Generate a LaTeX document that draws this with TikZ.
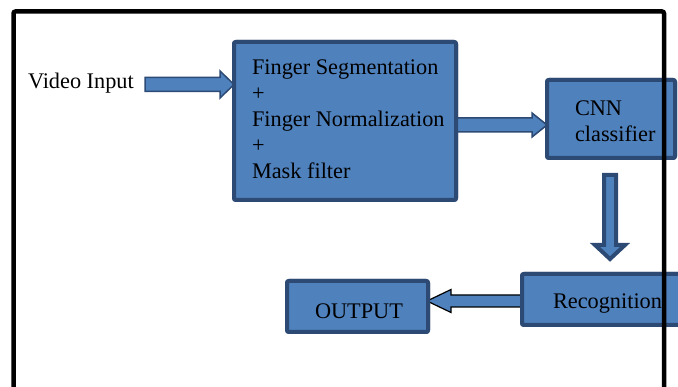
\documentclass[tikz,border=0pt]{standalone}
\usepackage{fontspec}
\setmainfont{Liberation Serif}
\usetikzlibrary{calc}
\definecolor{boxfill}{HTML}{4F81BD}
\definecolor{boxline}{HTML}{2C4A74}
\tikzset{
  box/.style={draw=boxline, fill=boxfill, line width=4pt, rounded corners=2pt,
    inner sep=0pt, outer sep=0pt},
  txt/.style={inner sep=0pt, outer sep=0pt, text=black,
    font=\fontsize{22.3}{26}\selectfont},
  barrow/.style={fill=boxfill, draw=boxline, line width=1.5pt, line join=miter},
  darrow/.style={fill=boxfill, draw=boxline, line width=4pt, line join=miter},
  karrow/.style={fill=boxfill, draw=black, line width=1.2pt, line join=miter},
  frame/.style={draw=black, line width=4.5pt, rounded corners=2pt}
}
\begin{document}
\begin{tikzpicture}[x=1pt, y=-1pt]
\useasboundingbox (0,0) rectangle (678,387);
\clip (0,0) rectangle (678,387);
% boxes (as nodes, drawn later on top of arrows)
\path
  node[box, minimum width=222pt, minimum height=158pt] (main) at (345,121) {}
  node[box, minimum width=128pt, minimum height=78pt] (cnn) at (611,119) {}
  node[box, minimum width=168pt, minimum height=51pt] (recog) at (606,299.5) {}
  node[box, minimum width=141pt, minimum height=51pt] (out) at (357.5,306.5) {};
% arrow end coordinates
\coordinate (vtail) at (145,84.5);
\coordinate (mtail) at ($(main.east)+(0,4)$);
\coordinate (dtail) at ($(cnn.south)+(-1,17)$);
\coordinate (dtip) at ($(recog.north -| dtail)+(0,-15)$);
\coordinate (rtail) at ($(recog.west)+(0,1.5)$);
% video input arrow
\draw[barrow] let \p1=(vtail), \p2=(main.west |- vtail) in
  (\x1,{\y1+7pt}) -- ({\x2-14pt},{\y1+7pt}) -- ({\x2-14pt},{\y1+13.5pt}) --
  (\x2,\y1) -- ({\x2-14pt},{\y1-13.5pt}) -- ({\x2-14pt},{\y1-7pt}) -- (\x1,{\y1-7pt}) -- cycle;
% main -> cnn
\draw[barrow] let \p1=(mtail), \p2=(cnn.west |- mtail) in
  (\x1,{\y1+7pt}) -- ({\x2-15pt},{\y1+7pt}) -- ({\x2-15pt},{\y1+12pt}) --
  (\x2,\y1) -- ({\x2-15pt},{\y1-12pt}) -- ({\x2-15pt},{\y1-7pt}) -- (\x1,{\y1-7pt}) -- cycle;
% cnn -> recognition (down)
\draw[darrow] let \p1=(dtail), \p2=(dtip) in
  ({\x1-6pt},\y1) -- ({\x1-6pt},{\y2+14pt}) -- ({\x1-15pt},{\y2+14pt}) --
  (\x1,\y2) -- ({\x1+15pt},{\y2+14pt}) -- ({\x1+6pt},{\y2+14pt}) -- ({\x1+6pt},\y1) -- cycle;
% recognition -> output
\draw[karrow] let \p1=(rtail), \p2=(out.east |- rtail) in
  (\x1,{\y1+6pt}) -- ({\x2+23pt},{\y1+6pt}) -- ({\x2+23pt},{\y1+11.5pt}) --
  ({\x2-1pt},\y1) -- ({\x2+23pt},{\y1-11.5pt}) -- ({\x2+23pt},{\y1-6pt}) -- (\x1,{\y1-6pt}) -- cycle;
% redraw boxes on top
\path
  node[box, minimum width=222pt, minimum height=158pt] at (main) {}
  node[box, minimum width=128pt, minimum height=78pt] at (cnn) {}
  node[box, minimum width=168pt, minimum height=51pt] at (recog) {}
  node[box, minimum width=141pt, minimum height=51pt] at (out) {};
% texts
\node[txt, anchor=base west] (vin) at (28,89) {Video Input};
\node[txt, anchor=north west, align=left] (maintxt) at (252,60)
  {Finger Segmentation\\+\\Finger Normalization\\+\\Mask filter};
\node[txt, anchor=north west, align=left] (cnntxt) at (575,101) {CNN\\classifier};
\node[txt, anchor=base west] (rectxt) at (553,309) {Recognition};
\node[txt, anchor=base west] (outtxt) at (315,319) {OUTPUT};
% frame
\coordinate (fbl) at (13.5,400);
\coordinate (fbr) at (664,400);
\draw[frame] (fbl) -- (13.5,11.5) -- (664,11.5) -- (fbr);
\end{tikzpicture}
\end{document}
